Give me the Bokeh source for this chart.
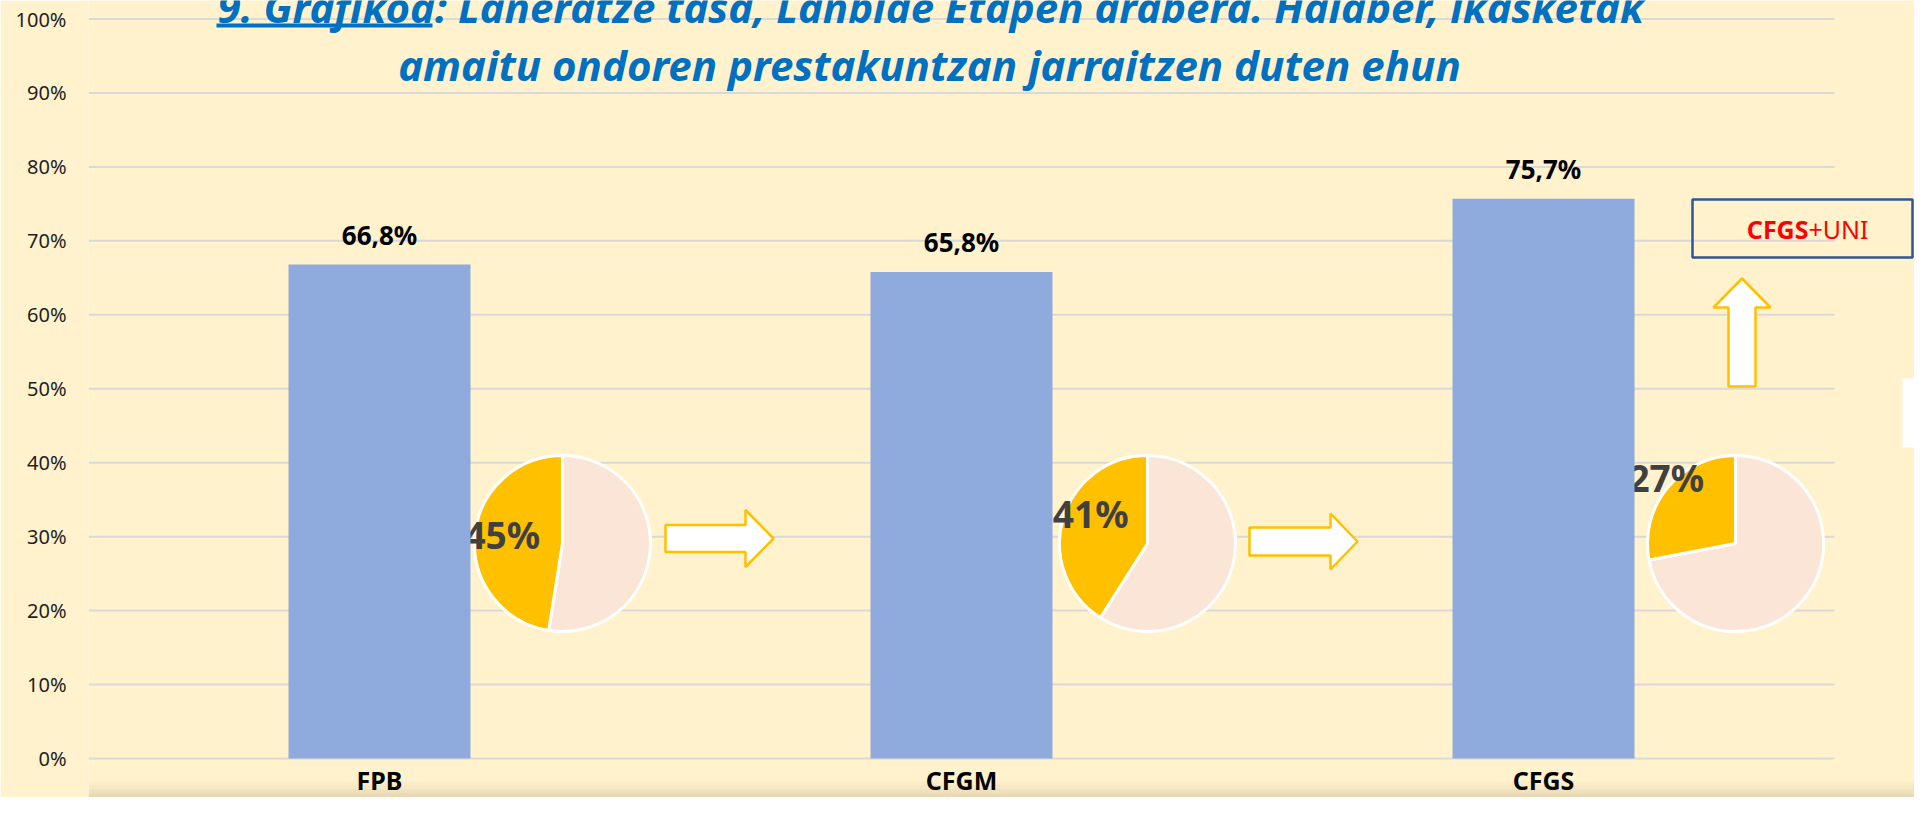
import math
from bokeh.plotting import figure
from bokeh.models import Range1d, FixedTicker, PrintfTickFormatter, Label, BoxAnnotation
from bokeh.core.properties import value
from bokeh.embed import file_html
from bokeh.resources import INLINE

# ---------------- data ----------------
categories = ["FPB", "CFGM", "CFGS"]
employment_rate = [66.8, 65.8, 75.7]
employment_labels = ["66,8%", "65,8%", "75,7%"]
further_study_share = [47.5, 41.0, 28.0]      # yellow wedge as drawn
further_study_labels = ["45%", "41%", "27%"]
y_ticks = [0, 10, 20, 30, 40, 50, 60, 70, 80, 90, 100]
title_line1 = "9. Grafikoa: Laneratze tasa, Lanbide Etapen arabera. Halaber, ikasketak"
title_line1_underlined = "9. Grafikoa"
title_line2 = "amaitu ondoren prestakuntzan jarraitzen duten ehun"
box_text_bold = "CFGS"
box_text_rest = "+UNI"

# ---------------- layout (pixel geometry -> data units) ----------------
W, H = 1914, 797
LEFT = 88                       # y-axis panel
FRAME_W = W - LEFT
ZERO_PX = 758                   # canvas row of the 0 % line
PX_PCT = (ZERO_PX - 18.5) / 100.0
PX_CAT = 582.0
X_END = FRAME_W / PX_CAT
Y_START = -(H - ZERO_PX) / PX_PCT
Y_END = ZERO_PX / PX_PCT
BASE_FIX = 13                   # alphabetic-baseline correction of Label text

def X(px):
    return (px - LEFT) / PX_CAT

def Y(py):
    return (ZERO_PX - py) / PX_PCT

BG = "#FFF2CC"
BAR = "#8FAADC"
YELLOW = "#FFC000"
PINK = "#FBE5D6"
BLUE_T = "#0070C0"
FONT = "Noto Sans"

xc = [i + 0.5 for i in range(len(categories))]

p = figure(width=W, height=H, x_range=Range1d(0, X_END), y_range=Range1d(Y_START, Y_END),
           output_backend="svg", toolbar_location=None,
           min_border_left=LEFT, min_border_right=0, min_border_top=0, min_border_bottom=0)
p.background_fill_color = BG
p.border_fill_color = BG
p.outline_line_color = None
p.xaxis.visible = False
p.xgrid.grid_line_color = None
p.ygrid.grid_line_color = None

p.yaxis.ticker = FixedTicker(ticks=y_ticks)
p.yaxis.formatter = PrintfTickFormatter(format="%d%%")
p.yaxis.axis_line_color = None
p.yaxis.major_tick_line_color = None
p.yaxis.minor_tick_line_color = None
p.yaxis.major_tick_out = 0
p.yaxis.major_tick_in = 0
p.yaxis.major_label_standoff = 22
p.yaxis.major_label_text_font = FONT
p.yaxis.major_label_text_font_size = "20px"
p.yaxis.major_label_text_color = "#1F1F1F"

# horizontal gridlines at the y ticks, over the three category slots
p.segment(x0=0, x1=len(categories), y0=y_ticks, y1=y_ticks, line_color="#D9D9D9", line_width=2)

# ---------------- pies ----------------
pie_dx = [0.3144, 0.3196, 0.3299]
pie_y = 29.07
pie_x = [c + d for c, d in zip(xc, pie_dx)]
yel_start = [math.pi / 2 for _ in further_study_share]
yel_end = [math.pi / 2 + s / 100 * 2 * math.pi for s in further_study_share]
p.wedge(x=pie_x, y=[pie_y] * 3, radius=88, radius_units="screen",
        start_angle=yel_end, end_angle=[a + 2 * math.pi for a in yel_start],
        direction="anticlock", fill_color=PINK, line_color="white", line_width=3)
p.wedge(x=pie_x, y=[pie_y] * 3, radius=88, radius_units="screen",
        start_angle=yel_start, end_angle=yel_end, direction="anticlock",
        fill_color=YELLOW, line_color="white", line_width=3)

lab_dx = [0.211, 0.222, 0.211]
lab_y = [30.3, 33.1, 38.0]
p.text(x=[c + d for c, d in zip(xc, lab_dx)], y=lab_y, text=further_study_labels,
       text_font=value(FONT), text_font_style="bold", text_font_size="37px",
       text_color="#404040", text_align="center", text_baseline="middle")

# ---------------- bars ----------------
p.vbar(x=xc, top=employment_rate, width=182 / PX_CAT, fill_color=BAR, line_color=None)
p.text(x=xc, y=[v + 30 / PX_PCT for v in employment_rate], text=employment_labels,
       text_font=value(FONT), text_font_style="bold", text_font_size="26px",
       text_color="#000000", text_align="center", text_baseline="middle")

# category labels
p.text(x=xc, y=[Y(779)] * len(categories), text=categories,
       text_font=value(FONT), text_font_style="bold", text_font_size="25px",
       text_color="#000000", text_align="center", text_baseline="middle")

# ---------------- arrows ----------------
def right_arrow(tail, tip, head_start, yc, sh, hh):
    xs = [tail, head_start, head_start, tip, head_start, head_start, tail]
    ys = [yc - sh, yc - sh, yc - hh, yc, yc + hh, yc + sh, yc + sh]
    return [X(v) for v in xs], [Y(v) for v in ys]

def up_arrow(xm, tip, head_base, bottom, sh, hh):
    xs = [xm - sh, xm - sh, xm - hh, xm, xm + hh, xm + sh, xm + sh]
    ys = [bottom, head_base, head_base, tip, head_base, head_base, bottom]
    return [X(v) for v in xs], [Y(v) for v in ys]

for ax, ay in [right_arrow(665, 773, 745, 538, 13.5, 28.5),
               right_arrow(1249, 1357, 1330, 541, 14, 28),
               up_arrow(1741.5, 278, 307, 386, 13.5, 28.5)]:
    p.patch(ax, ay, fill_color="white", line_color=YELLOW, line_width=2.5)

# ---------------- box CFGS+UNI ----------------
p.add_layout(BoxAnnotation(left=X(1692), right=X(1912), top=Y(199), bottom=Y(257),
                           fill_alpha=0, line_color="#2F5597", line_alpha=1, line_width=2.5))
p.add_layout(Label(x=X(1808), y=Y(228), text=box_text_bold, text_align="right",
                   text_baseline="middle", text_font=FONT, text_font_style="bold",
                   text_font_size="25px", text_color="#FF0000"))
p.add_layout(Label(x=X(1808), y=Y(228), text=box_text_rest, text_align="left",
                   text_baseline="middle", text_font=FONT,
                   text_font_size="25px", text_color="#FF0000"))

# page-number fragment at right edge
p.add_layout(BoxAnnotation(left=X(1902), right=X(1940), top=Y(378), bottom=Y(447),
                           fill_color="white", fill_alpha=1, line_color=None))

# ---------------- title ----------------
p.add_layout(Label(x=X(217), y=Y(19 - BASE_FIX), text=title_line1, text_align="left",
                   text_baseline="alphabetic", text_font=FONT,
                   text_font_style="bold italic", text_font_size="42px", text_color=BLUE_T))
p.add_layout(Label(x=X(929), y=Y(77 - BASE_FIX), text=title_line2, text_align="center",
                   text_baseline="alphabetic", text_font=FONT,
                   text_font_style="bold italic", text_font_size="42px", text_color=BLUE_T))
p.add_layout(BoxAnnotation(left=X(216), right=X(432), top=Y(23), bottom=Y(27),
                           fill_color=BLUE_T, fill_alpha=1, line_color=None))

# bottom shadow of the screenshot
for i, a in enumerate([0.04, 0.08, 0.13, 0.19]):
    p.add_layout(BoxAnnotation(top=Y(781 + 4 * i), bottom=Y(785 + 4 * i) if i < 3 else Y_START,
                               fill_color="#8a7560", fill_alpha=a, line_color=None))

open("out.html", "w").write(file_html(p, INLINE))
